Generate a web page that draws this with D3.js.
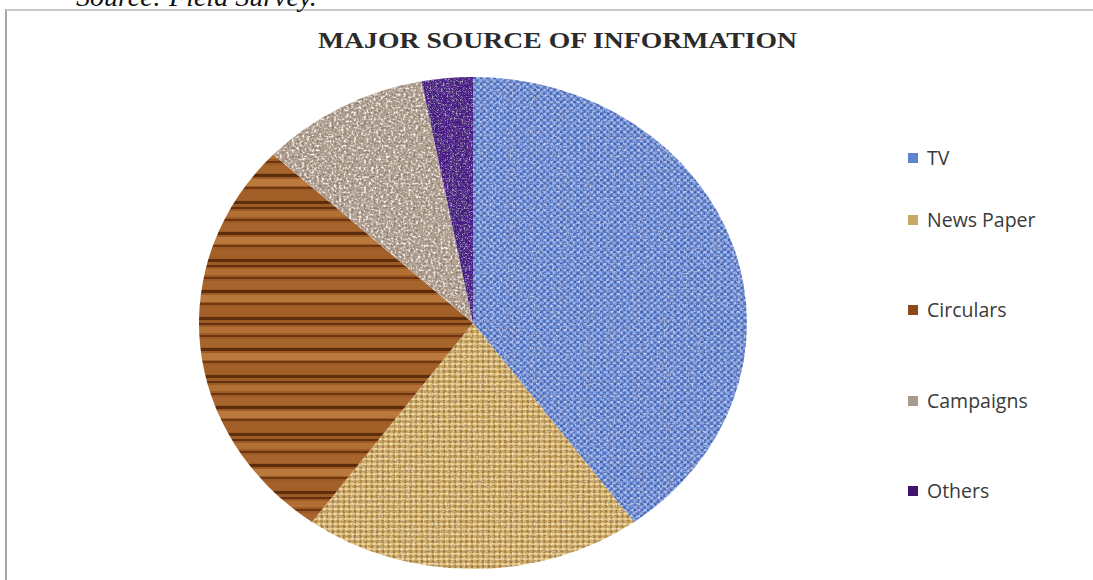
<!DOCTYPE html>
<html><head><meta charset="utf-8">
<script src="https://cdn.jsdelivr.net/npm/d3@7"></script>
<style>html,body{margin:0;padding:0;background:#fff;overflow:hidden}</style>
</head><body>
<script>
const categories = ["TV", "News Paper", "Circulars", "Campaigns", "Others"];
const values = [40, 20, 27, 10, 3];
const title = "MAJOR SOURCE OF INFORMATION";
const sourceNote = "Source: Field Survey.";

const W = 1093, H = 580;
const svg = d3.select("body").append("svg").attr("width", W).attr("height", H);
const defs = svg.append("defs");

// --- textures ---
let p = defs.append("pattern").attr("id","texTV").attr("patternUnits","userSpaceOnUse").attr("width",6).attr("height",6);
p.append("rect").attr("width",6).attr("height",6).attr("fill","#6a8fd8");
p.append("rect").attr("x",0).attr("y",0).attr("width",3).attr("height",2).attr("fill","#3f60b4");
p.append("rect").attr("x",3).attr("y",3).attr("width",2).attr("height",3).attr("fill","#4465bb");
p.append("rect").attr("x",3).attr("y",0).attr("width",3).attr("height",2).attr("fill","#a4bdf0");
p.append("rect").attr("x",0).attr("y",3).attr("width",2).attr("height",2).attr("fill","#93b0ea");

p = defs.append("pattern").attr("id","texNP").attr("patternUnits","userSpaceOnUse").attr("width",5).attr("height",5);
p.append("rect").attr("width",5).attr("height",5).attr("fill","#d6b26a");
p.append("rect").attr("x",0).attr("y",0).attr("width",3).attr("height",2).attr("fill","#eed597");
p.append("rect").attr("x",3).attr("y",2).attr("width",2).attr("height",3).attr("fill","#a27d3a");
p.append("rect").attr("x",0).attr("y",3).attr("width",2).attr("height",1).attr("fill","#c09950");

p = defs.append("pattern").attr("id","texWood").attr("patternUnits","userSpaceOnUse").attr("width",400).attr("height",58);
p.append("rect").attr("width",400).attr("height",58).attr("fill","#9c5a24");
const woodStripes = [[0,2,"#5e2a0c"],[4,6,"#b57236"],[12,2,"#6a300e"],[16,8,"#a8662c"],[25,3,"#552608"],[30,7,"#bd7c3e"],[38,2,"#6e3410"],[42,9,"#a45f28"],[52,3,"#5a280a"]];
woodStripes.forEach(s => p.append("rect").attr("x",0).attr("y",s[0]).attr("width",400).attr("height",s[1]).attr("fill",s[2]).attr("opacity",0.9));

function grain(id, freq, darkA, lightA){
  const f = defs.append("filter").attr("id",id).attr("x","0%").attr("y","0%").attr("width","100%").attr("height","100%");
  f.append("feTurbulence").attr("type","fractalNoise").attr("baseFrequency",freq).attr("numOctaves",2).attr("seed",3).attr("result","noise");
  f.append("feColorMatrix").attr("in","noise").attr("type","matrix")
    .attr("values",`0 0 0 0 0.25  0 0 0 0 0.2  0 0 0 0 0.18  ${darkA} 0 0 0 ${-darkA*0.52}`).attr("result","dk");
  f.append("feColorMatrix").attr("in","noise").attr("type","matrix")
    .attr("values",`0 0 0 0 1  0 0 0 0 0.97  0 0 0 0 0.95  ${-lightA} 0 0 0 ${lightA*0.46}`).attr("result","lt");
  f.append("feComposite").attr("in","dk").attr("in2","SourceAlpha").attr("operator","in").attr("result","dk2");
  f.append("feComposite").attr("in","lt").attr("in2","SourceAlpha").attr("operator","in").attr("result","lt2");
  const m = f.append("feMerge");
  m.append("feMergeNode").attr("in","SourceGraphic");
  m.append("feMergeNode").attr("in","dk2");
  m.append("feMergeNode").attr("in","lt2");
}
grain("grainCamp", 0.45, 4, 4);
grain("grainSoft", 0.6, 1.5, 1.5);

const fills = ["url(#texTV)","url(#texNP)","url(#texWood)","#b4a393","#4a1688"];
const filters = ["url(#grainSoft)","url(#grainSoft)",null,"url(#grainCamp)","url(#grainSoft)"];
const legendColors = ["#5f84cf","#c8a865","#8a4a1c","#a89a8c","#3f1570"];

// --- border & texts ---
svg.append("line").attr("x1",6).attr("x2",6).attr("y1",9).attr("y2",H).attr("stroke","#a6a6a6").attr("stroke-width",2);
svg.append("line").attr("x1",6).attr("x2",W).attr("y1",10).attr("y2",10).attr("stroke","#c8c8c8").attr("stroke-width",2);

svg.append("text").attr("x",76).attr("y",6).attr("font-family","Liberation Serif, serif").attr("font-style","italic")
  .attr("font-size",28).attr("fill","#111").text(sourceNote);

svg.append("text").attr("x",318).attr("y",48).attr("font-family","Liberation Serif, serif")
  .attr("font-weight","bold").attr("font-size",23).attr("fill","#2b2b2b")
  .attr("textLength",479).attr("lengthAdjust","spacingAndGlyphs").text(title);

// --- pie ---
const cx = 473, cy = 323, ry = 246, rx = 274;
const pie = d3.pie().sort(null).value(d => d)(values);
const arc = d3.arc().innerRadius(0).outerRadius(ry);
const g = svg.append("g").attr("transform",`translate(${cx},${cy}) scale(${rx/ry},1)`);
g.selectAll("path.s").data(pie).join("path").attr("class","s")
  .attr("d", arc)
  .attr("fill", (d,i) => fills[i])
  .attr("filter", (d,i) => filters[i]);

// --- legend ---
const legendY = [158, 220, 310, 401, 491];
const lg = svg.append("g");
categories.forEach((c,i) => {
  lg.append("rect").attr("x",908).attr("y",legendY[i]-5).attr("width",10).attr("height",10).attr("fill",legendColors[i]);
  lg.append("text").attr("x",927).attr("y",legendY[i]).attr("dy","0.36em").attr("font-family","Open Sans, sans-serif")
    .attr("font-size",19.5).attr("fill","#3a3a3a").text(c);
});
</script>
</body></html>
